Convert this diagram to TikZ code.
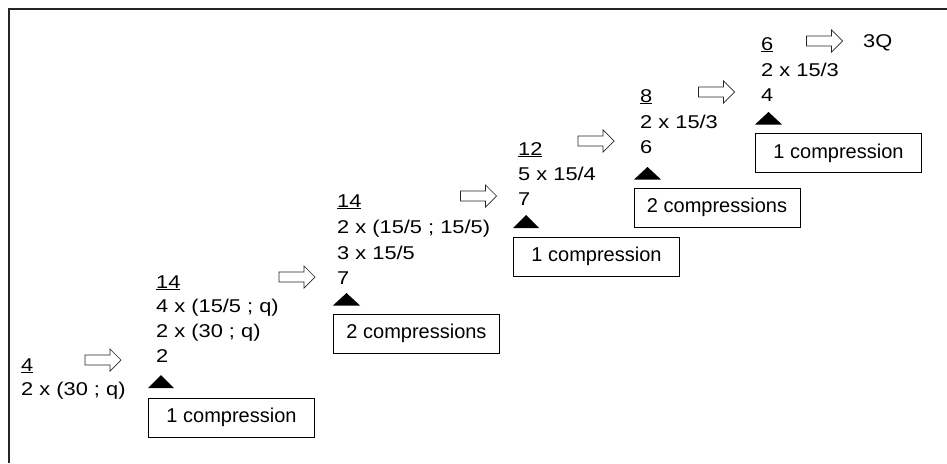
\documentclass[tikz,border=0pt]{standalone}
\usepackage{fontspec}
\setmainfont{Liberation Sans}
\newfontfamily\grpfam[FakeStretch=1.18]{Liberation Sans}
\newcommand\grpfont{\grpfam\fontsize{18.5}{22}\selectfont}
\newcommand\boxfont{\fontsize{20}{24}\selectfont}
\newcommand\ul[1]{\underline{#1}}
\begin{document}
\begin{tikzpicture}[x=1pt,y=-1pt,
  grp/.style={anchor=base west, inner sep=0pt, font=\grpfont},
  cbox/.style={draw, line width=1pt, minimum width=166pt, minimum height=39pt, inner sep=0pt, font=\boxfont, anchor=north west},
  tri/.style={fill=black},
  blockarr/.pic={\draw[line width=0.7pt, draw=black!85, fill=white] (-18,-5) -- (7,-5) -- (7,-11) -- (18,0) -- (7,11) -- (7,5) -- (-18,5) -- cycle;}
]
\useasboundingbox (0,0) rectangle (947,463);
\draw[line width=2pt, black!85] (8.5,463) -- (8.5,8.5) -- (947,8.5);

% group 1
\node[grp] (g1a) at (21,371) {\ul{4}};
\node[grp] (g1b) at (21,395) {2 x (30 ; q)};
\pic (a1) at (103,360) {blockarr};

% group 2
\node[grp] (g2a) at (156,288) {\ul{14}};
\node[grp] (g2b) at (156,312.5) {4 x (15/5 ; q)};
\node[grp] (g2c) at (156,337) {2 x (30 ; q)};
\node[grp] (g2d) at (156,362) {2};
\fill[tri] (148,388) -- (174,388) -- (161,375) -- cycle;
\node[cbox] (b2) at (148,397.5) {1 compression};
\pic (a2) at (297,277) {blockarr};

% group 3
\node[grp] (g3a) at (337,207) {\ul{14}};
\node[grp] (g3b) at (337,233) {2 x (15/5 ; 15/5)};
\node[grp] (g3c) at (337,259) {3 x 15/5};
\node[grp] (g3d) at (337,284) {7};
\fill[tri] (333,305.5) -- (360,305.5) -- (346.5,293) -- cycle;
\node[cbox] (b3) at (333,313.5) {2 compressions};
\pic (a3) at (478.5,196) {blockarr};

% group 4
\node[grp] (g4a) at (518,155) {\ul{12}};
\node[grp] (g4b) at (518,180) {5 x 15/4};
\node[grp] (g4c) at (518,205) {7};
\fill[tri] (513,228) -- (539,228) -- (526,215) -- cycle;
\node[cbox] (b4) at (513,236.5) {1 compression};
\pic (a4) at (596,141) {blockarr};

% group 5
\node[grp] (g5a) at (640,102) {\ul{8}};
\node[grp] (g5b) at (640,128) {2 x 15/3};
\node[grp] (g5c) at (640,153) {6};
\fill[tri] (634,179.5) -- (661,179.5) -- (647.5,167) -- cycle;
\node[cbox] (b5) at (633.5,187.5) {2 compressions};
\pic (a5) at (716.5,92) {blockarr};

% group 6
\node[grp] (g6a) at (761,50) {\ul{6}};
\node[grp] (g6b) at (761,76) {2 x 15/3};
\node[grp] (g6c) at (761,101) {4};
\fill[tri] (755,124.5) -- (782,124.5) -- (768.5,112) -- cycle;
\node[cbox] (b6) at (755,133) {1 compression};
\pic (a6) at (824.5,41) {blockarr};
\node[grp] (q3) at (863,47) {3Q};
\end{tikzpicture}
\end{document}
